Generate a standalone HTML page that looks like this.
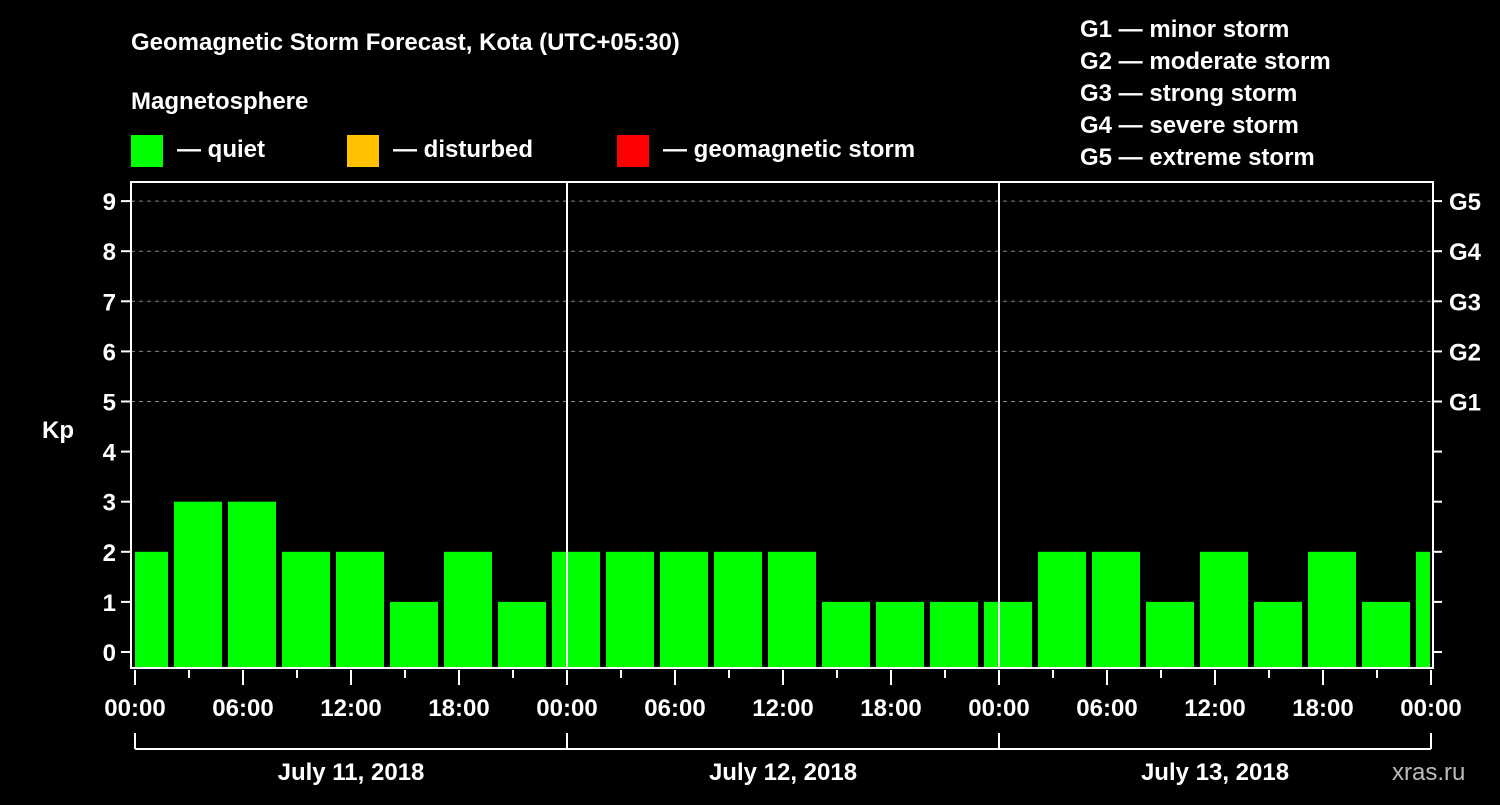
<!DOCTYPE html>
<html><head><meta charset="utf-8"><style>
body{margin:0;background:#000;width:1500px;height:800px;overflow:hidden}
svg text{font-family:"Liberation Sans",Arial,sans-serif;font-weight:bold;fill:#fff}
</style></head><body>
<svg id="c" width="1500" height="800">
<text x="131" y="50" font-size="24">Geomagnetic Storm Forecast, Kota (UTC+05:30)</text>
<text x="131" y="109" font-size="24">Magnetosphere</text>
<rect x="131" y="135" width="32" height="32" fill="#00ff00"/>
<text x="177" y="157" font-size="24">— quiet</text>
<rect x="347" y="135" width="32" height="32" fill="#ffc000"/>
<text x="393" y="157" font-size="24">— disturbed</text>
<rect x="617" y="135" width="32" height="32" fill="#ff0000"/>
<text x="663" y="157" font-size="24">— geomagnetic storm</text>
<g font-size="24">
<text x="1080" y="37">G1 — minor storm</text>
<text x="1080" y="69">G2 — moderate storm</text>
<text x="1080" y="101">G3 — strong storm</text>
<text x="1080" y="133">G4 — severe storm</text>
<text x="1080" y="165">G5 — extreme storm</text>
</g>
<text x="42" y="438" font-size="24">Kp</text>
<text x="1392" y="780" font-size="24" fill="#bbb" style="fill:#bbb;font-weight:normal">xras.ru</text>
<g id="grid"></g><g id="bars"></g><g id="axes"></g>
</svg>
<script>
const kpValues=[2,3,3,2,2,1,2,1,2,2,2,2,2,1,1,1,1,2,2,1,2,1,2,1,2];
const yTicks=[0,1,2,3,4,5,6,7,8,9];
const gLabels=["G1","G2","G3","G4","G5"];
const dayLabels=["July 11, 2018","July 12, 2018","July 13, 2018"];
const hourLabels=["00:00","06:00","12:00","18:00"];
const NS="http://www.w3.org/2000/svg";
const L=131,R=1433,T=182,B=668,X0=135,DAY=432;
const y=v=>652-v*50.1;
const x=h=>X0+h*DAY/24;
function mk(tag,attrs,parent,txt){const e=document.createElementNS(NS,tag);for(const k in attrs)e.setAttribute(k,attrs[k]);if(txt!==undefined)e.textContent=txt;parent.appendChild(e);return e;}
const grid=document.getElementById('grid'),bars=document.getElementById('bars'),axes=document.getElementById('axes');
for(let v=5;v<=9;v++){const l=mk('line',{x1:L,x2:R,y1:y(v),y2:y(v),stroke:'#888','stroke-dasharray':'4,4'},grid);

}
kpValues.forEach((v,i)=>{const c=x(0.5+3*i);let x1=Math.max(c-24,X0),x2=Math.min(c+24,R-3);
const col=v>=5?'#ff0000':(v>=4?'#ffc000':'#00ff00');
const r=mk('rect',{x:x1,y:y(v),width:x2-x1,height:B-y(v),fill:col},bars);

});
for(let d=1;d<3;d++){const l=mk('line',{x1:x(24*d),x2:x(24*d),y1:T,y2:B,stroke:'#fff','stroke-width':2},axes);

}
const fr=mk('path',{d:`M${L} ${T}H${R}V${B}H${L}Z`,fill:'none',stroke:'#fff','stroke-width':2},axes);


yTicks.forEach(v=>{mk('line',{x1:L-10,x2:L,y1:y(v),y2:y(v),stroke:'#fff','stroke-width':2},axes);
mk('line',{x1:R,x2:R+9,y1:y(v),y2:y(v),stroke:'#fff','stroke-width':2},axes);
const t=mk('text',{x:L-15,y:y(v)+9,'font-size':24,'text-anchor':'end'},axes,String(v));

});
gLabels.forEach((g,i)=>{const t=mk('text',{x:1449,y:y(5+i)+9,'font-size':24},axes,g);

});
for(let h=0;h<=72;h+=3){const maj=h%6===0;mk('line',{x1:x(h),x2:x(h),y1:B+2,y2:B+(maj?17:10),stroke:'#fff','stroke-width':2},axes);
if(maj){const t=mk('text',{x:x(h),y:716,'font-size':24,'text-anchor':'middle'},axes,hourLabels[(h/6)%4]);

}}
mk('line',{x1:X0,x2:x(72),y1:749,y2:749,stroke:'#fff','stroke-width':2},axes);
for(let d=0;d<=3;d++)mk('line',{x1:x(24*d),x2:x(24*d),y1:733,y2:749,stroke:'#fff','stroke-width':2},axes);
dayLabels.forEach((s,d)=>{const t=mk('text',{x:x(24*d+12),y:780,'font-size':24,'text-anchor':'middle'},axes,s);

});
</script>
</body></html>
